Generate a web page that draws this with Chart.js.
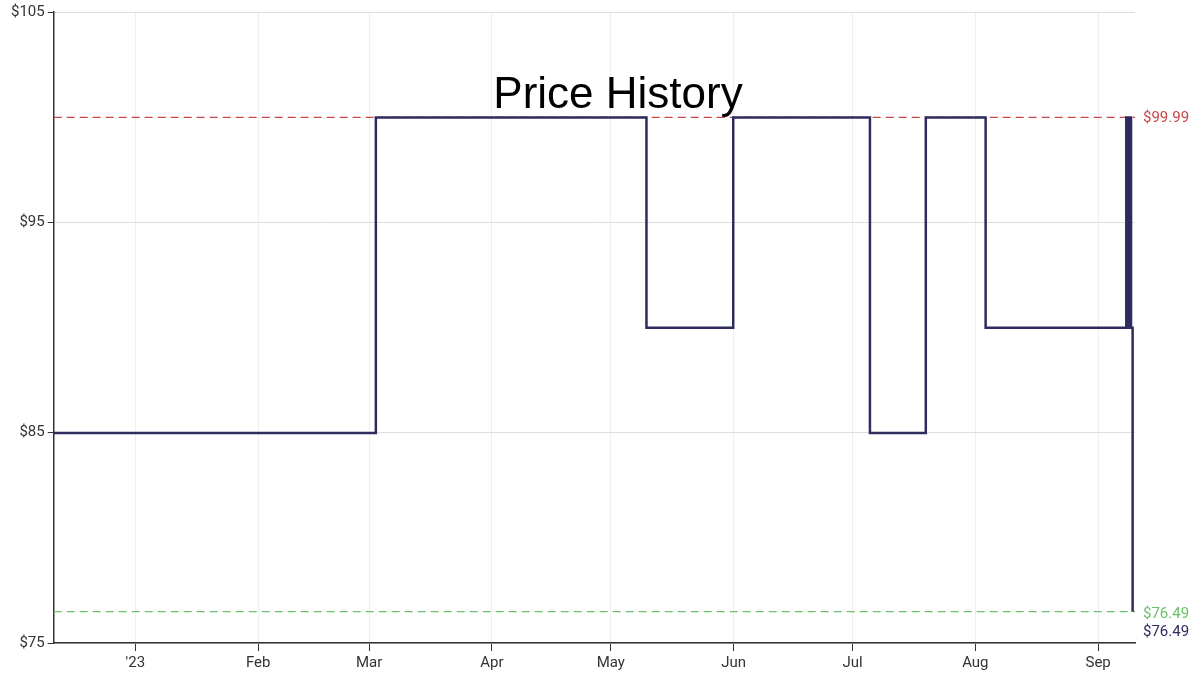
<!DOCTYPE html>
<html><head><meta charset="utf-8">
<script src="https://cdn.jsdelivr.net/npm/chart.js@4"></script>
<style>html,body{margin:0;padding:0;background:#fff}#w{width:1200px;height:681px}</style>
</head><body><div id="w"><canvas id="c"></canvas></div>
<script>
// day offsets from 2023-01-01
const priceDays = [-20.6, 60.7, 129, 150.9, 185.4, 199.5, 214.6, 250.1, 250.5, 250.9, 251.3, 251.7];
const priceValues = [84.99, 99.99, 89.99, 99.99, 84.99, 99.99, 89.99, 99.99, 89.99, 99.99, 89.99, 76.49];
const highPrice = 99.99;
const lowPrice = 76.49;
const currentPrice = 76.49;
const monthTickDays = [0, 31, 59, 90, 120, 151, 181, 212, 243];
const monthTickLabels = ["'23", "Feb", "Mar", "Apr", "May", "Jun", "Jul", "Aug", "Sep"];
const yTicks = [75, 85, 95, 105];
const xMin = -20.6, xMax = 252.3;

const pts = priceDays.map((d, i) => ({x: d, y: priceValues[i]}));
pts.push({x: xMax - 0.6, y: priceValues[priceValues.length - 1]});

const labelsPlugin = {
  id: 'lbl',
  afterDraw(chart) {
    const {ctx, chartArea: a, scales: {y}} = chart;
    ctx.save();
    ctx.font = '44px "Liberation Sans", Arial, sans-serif';
    ctx.fillStyle = '#000';
    ctx.textAlign = 'center';
    ctx.textBaseline = 'middle';
    ctx.fillText('Price History', 618, 96);
    ctx.font = '15px Roboto';
    ctx.textAlign = 'left';
    ctx.fillStyle = '#c9464a';
    ctx.fillText('$' + highPrice.toFixed(2), a.right + 8, y.getPixelForValue(highPrice) + 1);
    ctx.fillStyle = '#6cc06a';
    ctx.fillText('$' + lowPrice.toFixed(2), a.right + 8, y.getPixelForValue(lowPrice) + 3);
    ctx.fillStyle = '#2e2c5e';
    ctx.fillText('$' + currentPrice.toFixed(2), a.right + 8, y.getPixelForValue(lowPrice) + 21);
    ctx.restore();
  }
};

new Chart(document.getElementById('c'), {
  type: 'line',
  data: {
    datasets: [
      {data: pts, borderColor: '#2e2c5e', borderWidth: 2.5, stepped: 'before', pointRadius: 0, fill: false},
      {data: [{x: xMin, y: highPrice}, {x: xMax, y: highPrice}], borderColor: '#c9464a', borderWidth: 1.2, borderDash: [8, 5], pointRadius: 0},
      {data: [{x: xMin, y: lowPrice}, {x: xMax, y: lowPrice}], borderColor: '#6cc06a', borderWidth: 1.2, borderDash: [8, 5], pointRadius: 0}
    ]
  },
  options: {
    responsive: true, maintainAspectRatio: false, animation: false,
    layout: {padding: {left: 8, right: 65, top: 0, bottom: 6}},
    plugins: {legend: {display: false}, tooltip: {enabled: false}},
    scales: {
      x: {
        type: 'linear', min: xMin, max: xMax,
        afterBuildTicks(s) { s.ticks = monthTickDays.map(v => ({value: v})); },
        ticks: {callback: (v) => monthTickLabels[monthTickDays.indexOf(v)], font: {family: 'Roboto', size: 15}, color: '#333', maxRotation: 0, autoSkip: false},
        grid: {color: '#eeeeee', tickColor: '#333', tickLength: 8},
        border: {color: '#333', width: 1.5}
      },
      y: {
        min: 75, max: 105,
        afterBuildTicks(s) { s.ticks = yTicks.map(v => ({value: v})); },
        ticks: {callback: v => '$' + v, font: {family: 'Roboto', size: 15}, color: '#333'},
        grid: {color: '#dddddd', tickColor: '#333', tickLength: 6},
        border: {color: '#333', width: 1.5}
      }
    }
  },
  plugins: [labelsPlugin]
});
</script></body></html>
